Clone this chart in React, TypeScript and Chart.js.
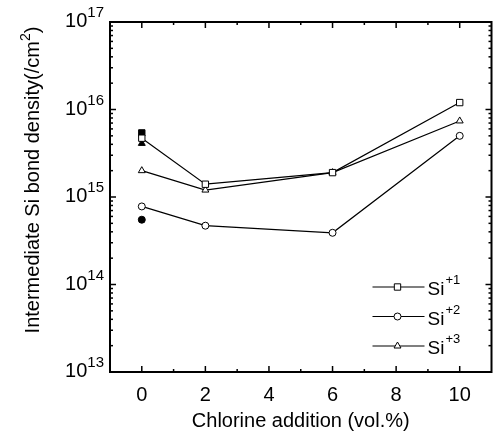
import { useEffect, useRef } from "react";
import { Chart, registerables } from "chart.js";
Chart.register(...registerables);

// ---- data ----
const chlorine = [0, 2, 6, 10];
const si1 = [4.7e15, 1.4e15, 1.9e15, 1.2e16];
const si2 = [7.8e14, 4.7e14, 3.9e14, 5.0e15];
const si3 = [2.0e15, 1.2e15, 1.9e15, 7.4e15];
const filledX = [0];
const filledSi1 = [5.4e15];
const filledSi2 = [5.5e14];
const filledSi3 = [4.1e15];
const seriesLabels = ["+1", "+2", "+3"];
const xMajorTicks = [0, 2, 4, 6, 8, 10];
const xMinorTicks = [1, 3, 5, 7, 9];
const yDecades = [13, 14, 15, 16, 17];
const xTitle = "Chlorine addition (vol.%)";
const yTitle = "Intermediate Si bond density(/cm";

const FONT = "Arial, 'Liberation Sans', sans-serif";
const pts = (xs: number[], ys: number[]) => xs.map((x, i) => ({ x, y: ys[i] }));

function drawMarker(ctx: CanvasRenderingContext2D, style: string, x: number, y: number, r: number, fill: string) {
  ctx.beginPath();
  if (style === "rect") {
    const s = Math.SQRT1_2 * r;
    ctx.rect(x - s, y - s, 2 * s, 2 * s);
  } else if (style === "circle") {
    ctx.arc(x, y, r, 0, Math.PI * 2);
  } else {
    const w = r * Math.sqrt(3) / 2;
    ctx.moveTo(x, y - r);
    ctx.lineTo(x + w, y + r / 2);
    ctx.lineTo(x - w, y + r / 2);
    ctx.closePath();
  }
  ctx.fillStyle = fill;
  ctx.fill();
  ctx.stroke();
}

const decorPlugin = {
  id: "decor",
  afterDraw(chart: any) {
    const ctx: CanvasRenderingContext2D = chart.ctx;
    const ca = chart.chartArea;
    const xs = chart.scales.x;
    const ys = chart.scales.y;
    ctx.save();
    ctx.strokeStyle = "#000";
    ctx.fillStyle = "#000";
    ctx.lineWidth = 2;
    ctx.strokeRect(ca.left, ca.top, ca.right - ca.left, ca.bottom - ca.top);

    ctx.lineWidth = 1.5;
    const tick = (x1: number, y1: number, x2: number, y2: number) => {
      ctx.beginPath();
      ctx.moveTo(x1, y1);
      ctx.lineTo(x2, y2);
      ctx.stroke();
    };
    xMajorTicks.forEach((v) => {
      const px = xs.getPixelForValue(v);
      tick(px, ca.bottom, px, ca.bottom - 6);
      tick(px, ca.top, px, ca.top + 6);
    });
    xMinorTicks.forEach((v) => {
      const px = xs.getPixelForValue(v);
      tick(px, ca.bottom, px, ca.bottom - 3);
      tick(px, ca.top, px, ca.top + 3);
    });
    yDecades.forEach((d, i) => {
      const py = ys.getPixelForValue(Math.pow(10, d));
      tick(ca.left, py, ca.left + 6, py);
      tick(ca.right, py, ca.right - 6, py);
      if (i < yDecades.length - 1) {
        for (let k = 2; k <= 9; k++) {
          const pm = ys.getPixelForValue(k * Math.pow(10, d));
          tick(ca.left, pm, ca.left + 3, pm);
          tick(ca.right, pm, ca.right - 3, pm);
        }
      }
    });

    // x tick labels
    ctx.font = `20px ${FONT}`;
    ctx.textAlign = "center";
    ctx.textBaseline = "middle";
    xMajorTicks.forEach((v) => {
      ctx.fillText(String(v), xs.getPixelForValue(v), ca.bottom + 23);
    });

    // y tick labels 10^n
    yDecades.forEach((d) => {
      const py = ys.getPixelForValue(Math.pow(10, d));
      ctx.font = `15px ${FONT}`;
      const supW = ctx.measureText(String(d)).width;
      ctx.textAlign = "right";
      ctx.textBaseline = "alphabetic";
      const right = ca.left - 6;
      ctx.fillText(String(d), right, py - 5);
      ctx.font = `20px ${FONT}`;
      ctx.fillText("10", right - supW, py + 5);
    });

    // x title
    ctx.font = `20px ${FONT}`;
    ctx.textAlign = "center";
    ctx.textBaseline = "middle";
    ctx.fillText(xTitle, (ca.left + ca.right) / 2, ca.bottom + 49);

    // y title (rotated) with superscript 2
    ctx.save();
    ctx.translate(32, 180);
    ctx.rotate(-Math.PI / 2);
    ctx.font = `20px ${FONT}`;
    const w1 = ctx.measureText(yTitle).width;
    ctx.font = `14px ${FONT}`;
    const w2 = ctx.measureText("2").width;
    ctx.font = `20px ${FONT}`;
    const w3 = ctx.measureText(")").width;
    const total = w1 + w2 + w3;
    const x0 = -total / 2;
    ctx.textAlign = "left";
    ctx.textBaseline = "alphabetic";
    ctx.fillText(yTitle, x0, 7);
    ctx.font = `14px ${FONT}`;
    ctx.fillText("2", x0 + w1, -2);
    ctx.font = `20px ${FONT}`;
    ctx.fillText(")", x0 + w1 + w2, 7);
    ctx.restore();

    // legend
    const styles = ["rect", "circle", "triangle"];
    const radii = [4.5, 3.5, 4];
    const lx1 = ca.right - 119;
    const lx2 = ca.right - 67;
    const mx = ca.right - 94;
    seriesLabels.forEach((lab, i) => {
      const ly = ca.bottom - 85 + i * 29.5;
      ctx.lineWidth = 1.2;
      tick(lx1, ly, lx2, ly);
      ctx.lineWidth = 1;
      drawMarker(ctx, styles[i], mx, ly, radii[i], "#fff");
      ctx.fillStyle = "#000";
      ctx.font = `19px ${FONT}`;
      ctx.textAlign = "left";
      ctx.textBaseline = "alphabetic";
      const tx = ca.right - 64;
      ctx.fillText("Si", tx, ly + 8);
      const sw = ctx.measureText("Si").width;
      ctx.font = `13px ${FONT}`;
      ctx.fillText(lab, tx + sw + 1, ly - 3);
    });
    ctx.restore();
  },
};

export default function App() {
  const ref = useRef<HTMLCanvasElement | null>(null);
  useEffect(() => {
    if (!ref.current) return;
    const common = {
      borderColor: "#000",
      borderWidth: 1.2,
      pointBorderColor: "#000",
      pointBorderWidth: 1,
      showLine: true,
      fill: false,
      tension: 0,
    };
    const chart = new Chart(ref.current, {
      type: "line",
      data: {
        datasets: [
          { ...common, label: "Si+1", data: pts(chlorine, si1), pointStyle: "rect", pointRadius: 4.5, pointBackgroundColor: "#fff", order: 0 },
          { ...common, label: "Si+2", data: pts(chlorine, si2), pointStyle: "circle", pointRadius: 3.5, pointBackgroundColor: "#fff", order: 0 },
          { ...common, label: "Si+3", data: pts(chlorine, si3), pointStyle: "triangle", pointRadius: 4, pointBackgroundColor: "#fff", order: 0 },
          { ...common, label: "f1", data: pts(filledX, filledSi1), showLine: false, pointStyle: "rect", pointRadius: 4.5, pointBackgroundColor: "#000", order: 2 },
          { ...common, label: "f2", data: pts(filledX, filledSi2), showLine: false, pointStyle: "circle", pointRadius: 3.5, pointBackgroundColor: "#000", order: 2 },
          { ...common, label: "f3", data: pts(filledX, filledSi3), showLine: false, pointStyle: "triangle", pointRadius: 4, pointBackgroundColor: "#000", order: 1 },
        ],
      },
      options: {
        animation: false,
        responsive: false,
        events: [],
        layout: { padding: { top: 22, right: 3, left: 0, bottom: 0 } },
        plugins: { legend: { display: false }, tooltip: { enabled: false }, title: { display: false } },
        scales: {
          x: {
            type: "linear",
            min: -1,
            max: 11,
            grid: { display: false },
            border: { display: false },
            ticks: { display: false },
            afterFit: (s: any) => { s.height = 69; },
          },
          y: {
            type: "logarithmic",
            min: 1e13,
            max: 1e17,
            grid: { display: false },
            border: { display: false },
            ticks: { display: false },
            afterFit: (s: any) => { s.width = 110; },
          },
        },
      },
      plugins: [decorPlugin],
    } as any);
    return () => chart.destroy();
  }, []);
  return (
    <div style={{ position: "fixed", left: 0, top: 0, width: 497, height: 441, background: "#fff" }}>
      <canvas ref={ref} width={497} height={441} />
    </div>
  );
}
